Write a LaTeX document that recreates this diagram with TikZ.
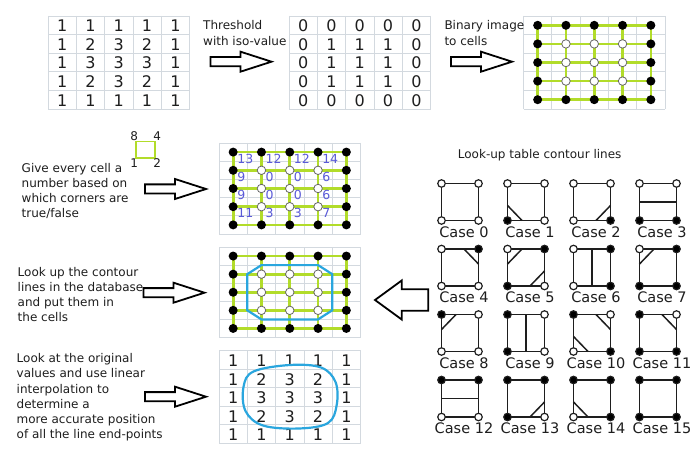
\documentclass[tikz,border=0pt]{standalone}
\usepackage{fontspec}
\setmainfont{DejaVu Sans}
\definecolor{gridc}{HTML}{D3D9DF}
\definecolor{mygreen}{HTML}{B2DC2A}
\definecolor{myblue}{HTML}{2AA6DE}
\definecolor{numblue}{HTML}{5A5AD8}
\definecolor{ink}{HTML}{1E1E1E}
\tikzset{
 gridline/.style={draw=gridc, line width=0.8pt},
 digit/.style={font=\fontsize{16}{16}\selectfont, text=ink, inner sep=0, anchor=base},
 lbl/.style={font=\fontsize{12}{15}\selectfont, text=ink, inner sep=0, anchor=base west},
 greenln/.style={draw=mygreen, line width=2.7pt},
 bdot/.style={circle, fill=black, inner sep=0, minimum size=9pt},
 wdot/.style={circle, fill=white, draw=gray!80!black, line width=0.8pt, inner sep=0, minimum size=8.5pt},
 blockarrow/.style={draw=black, fill=white, line width=1.8pt, line join=miter},
 contour/.style={draw=myblue, line width=2.2pt},
 numlbl/.style={font=\fontsize{12.5}{12.5}\selectfont, text=numblue, inner sep=0, anchor=base west},
 casesq/.style={draw=ink, line width=1.8pt},
 caseseg/.style={draw=ink, line width=1.5pt},
 cdot/.style={circle, draw=ink, line width=1.2pt, inner sep=0, minimum size=7.5pt},
 caselbl/.style={font=\fontsize{14.5}{14.5}\selectfont, text=ink, inner sep=0, anchor=base},
 rarr/.pic={\path[blockarrow] (0,-4.6) -- (30,-4.6) -- (30,-10) -- (61,0) -- (30,10) -- (30,4.6) -- (0,4.6) -- cycle;}
}
% grid of cells: #1 x0, #2 y0, #3 cell height
\newcommand\mkgrid[3]{%
 \foreach \i in {0,...,5} {
  \draw[gridline] ({#1+28.3*\i},#2) -- ({#1+28.3*\i},{#2+5*#3});
  \draw[gridline] (#1,{#2+#3*\i}) -- ({#1+141.5},{#2+#3*\i});
 }}
% digits: #1 x0, #2 y0, #3 h, #4 name
\newcommand\mkdigits[4]{%
 \foreach \row [count=\r from 0] in {{1,1,1,1,1},{1,2,3,2,1},{1,3,3,3,1},{1,2,3,2,1},{1,1,1,1,1}}
  \foreach \v [count=\c from 0] in \row
   \node[digit] (#4-\r-\c) at ({#1+14.15+28.3*\c},{#2+15.8+#3*\r}) {\v};}
% dots: #1 x0, #2 y0, #3 h, #4 name
\newcommand\mkdots[4]{%
 \foreach \j in {0,...,4} \draw[greenln] ({#1+14.15},{#2+#3/2+#3*\j}) -- ({#1+14.15+28.3*4},{#2+#3/2+#3*\j});
 \foreach \i in {0,...,4} \draw[greenln] ({#1+14.15+28.3*\i},{#2+#3/2}) -- ({#1+14.15+28.3*\i},{#2+#3/2+4*#3});
 \foreach \i in {0,...,4} \foreach \j in {0,...,4} {
   \pgfmathtruncatemacro\inner{(\i>0)&&(\i<4)&&(\j>0)&&(\j<4)}
   \ifnum\inner=1
     \node[wdot] (#4-\i-\j) at ({#1+14.15+28.3*\i},{#2+#3/2+#3*\j}) {};
   \else
     \node[bdot] (#4-\i-\j) at ({#1+14.15+28.3*\i},{#2+#3/2+#3*\j}) {};
   \fi
 }}
% case box: #1 k, #2 x, #3 y, #4 tl, #5 tr, #6 br, #7 bl, #8 segments
\newcommand\casebox[8]{%
 \begin{scope}[shift={(#2,#3)}]
  \draw[casesq] (0,0) rectangle (37,37);
  #8
  \node[cdot, fill=#4] (c#1tl) at (0,0) {};
  \node[cdot, fill=#5] (c#1tr) at (37,0) {};
  \node[cdot, fill=#6] (c#1br) at (37,37) {};
  \node[cdot, fill=#7] (c#1bl) at (0,37) {};
  \node[caselbl] (c#1lbl) at (22.5,53.8) {Case #1};
 \end{scope}}
\newcommand\sTL{\draw[caseseg] (0,15) -- (14.5,0);}
\newcommand\sTR{\draw[caseseg] (22.5,0) -- (37,15);}
\newcommand\sBR{\draw[caseseg] (37,22) -- (22.5,37);}
\newcommand\sBL{\draw[caseseg] (0,22) -- (14.5,37);}
\newcommand\sH{\draw[caseseg] (0,18.5) -- (37,18.5);}
\newcommand\sV{\draw[caseseg] (18.5,0) -- (18.5,37);}
\begin{document}
\begin{tikzpicture}[x=1pt,y=-1pt]
\useasboundingbox (0,0) rectangle (700,470);
\fill[white] (0,0) rectangle (700,470);

% ---- top row ----
\mkgrid{48}{16}{18.6}
\mkdigits{48}{16}{18.6}{ga}
\mkgrid{289}{16}{18.6}
\foreach \row [count=\r from 0] in {{0,0,0,0,0},{0,1,1,1,0},{0,1,1,1,0},{0,1,1,1,0},{0,0,0,0,0}}
  \foreach \v [count=\c from 0] in \row
   \node[digit] (gb-\r-\c) at ({289+14.15+28.3*\c},{16+15.8+18.6*\r}) {\v};
\mkgrid{523.5}{16}{18.6}
\mkdots{523.5}{16}{18.6}{gc}

\node[lbl] (thr1) at (203,29.3) {Threshold};
\node[lbl] (thr2) at (203,45.3) {with iso-value};
\pic at (210.5,61.7) {rarr};
\node[lbl] (bin1) at (444.3,29.3) {Binary image};
\node[lbl] (bin2) at (444.3,45.3) {to cells};
\pic at (451,61.7) {rarr};

% ---- second column ----
\node[lbl] (gv1) at (21.5,172.3) {Give every cell a};
\node[lbl] (gv2) at (21.5,187.3) {number based on};
\node[lbl] (gv3) at (21.5,202.3) {which corners are};
\node[lbl] (gv4) at (21.5,217.3) {true/false};
\draw[mygreen, line width=1.8pt] (136,141.5) rectangle (155,158);
\node[lbl, anchor=base] (k8) at (134.3,140.7) {8};
\node[lbl, anchor=base] (k4) at (157.3,140.7) {4};
\node[lbl, anchor=base] (k1) at (134.3,167.7) {1};
\node[lbl, anchor=base] (k2) at (157.3,167.7) {2};
\pic at (145,189) {rarr};
\mkgrid{219}{143}{18.2}
\mkdots{219}{143}{18.2}{gd}
\foreach \row [count=\r from 0] in {{13,12,12,14},{9,0,0,6},{9,0,0,6},{11,3,3,7}}
  \foreach \v [count=\c from 0] in \row
   \node[numlbl] (n-\r-\c) at ({219+14.15+28.3*\c+4},{143+9.1+18.2*\r+11}) {\v};

\node[lbl] (lu1) at (17.5,276) {Look up the contour};
\node[lbl] (lu2) at (17.5,291) {lines in the database};
\node[lbl] (lu3) at (17.5,306) {and put them in};
\node[lbl] (lu4) at (17.5,321) {the cells};
\pic at (143.5,292.7) {rarr};
\mkgrid{219}{247}{18.1}
\mkdots{219}{247}{18.1}{ge}
\draw[contour] (261.45,265.1) -- (318.05,265.1) -- (332.2,274.15) -- (332.2,310.35) -- (318.05,319.4) -- (261.45,319.4) -- (247.3,310.35) -- (247.3,274.15) -- cycle;

\node[lbl] (la1) at (16.5,362.7) {Look at the original};
\node[lbl] (la2) at (16.5,377.9) {values and use linear};
\node[lbl] (la3) at (16.5,393.1) {interpolation to};
\node[lbl] (la4) at (16.5,408.3) {determine a};
\node[lbl] (la5) at (16.5,423.5) {more accurate position};
\node[lbl] (la6) at (16.5,438.7) {of all the line end-points};
\pic at (145,396.7) {rarr};
\mkgrid{219}{350.7}{18.5}
\mkdigits{219}{350.7}{18.5}{gf}
\draw[contour] plot[smooth cycle, tension=0.6] coordinates {(290,365) (321,367.5) (335.5,382) (336.7,405) (328,423) (299,428.5) (263,425.5) (245.5,411) (243.5,387) (253.5,371.5)};

% big left arrow
\path[blockarrow] (428.3,289.2) -- (401.7,289.2) -- (401.7,280.5) -- (375,300) -- (401.7,319.5) -- (401.7,310.8) -- (428.3,310.8) -- cycle;

% ---- look-up table ----
\node[lbl] (lut) at (457.7,158.7) {Look-up table contour lines};
\casebox{0}{441.5}{183.5}{white}{white}{white}{white}{}
\casebox{1}{507.5}{183.5}{white}{white}{white}{black}{\sBL}
\casebox{2}{573.5}{183.5}{white}{white}{black}{white}{\sBR}
\casebox{3}{639.5}{183.5}{white}{white}{black}{black}{\sH}
\casebox{4}{441.5}{249}{white}{black}{white}{white}{\sTR}
\casebox{5}{507.5}{249}{white}{black}{white}{black}{\sTL\sBR}
\casebox{6}{573.5}{249}{white}{black}{black}{white}{\sV}
\casebox{7}{639.5}{249}{white}{black}{black}{black}{\sTL}
\casebox{8}{441.5}{314.5}{black}{white}{white}{white}{\sTL}
\casebox{9}{507.5}{314.5}{black}{white}{white}{black}{\sV}
\casebox{10}{573.5}{314.5}{black}{white}{black}{white}{\sTR\sBL}
\casebox{11}{639.5}{314.5}{black}{white}{black}{black}{\sTR}
\casebox{12}{441.5}{380}{black}{black}{white}{white}{\sH}
\casebox{13}{507.5}{380}{black}{black}{white}{black}{\sBR}
\casebox{14}{573.5}{380}{black}{black}{black}{white}{\sBL}
\casebox{15}{639.5}{380}{black}{black}{black}{black}{}
\end{tikzpicture}
\end{document}
